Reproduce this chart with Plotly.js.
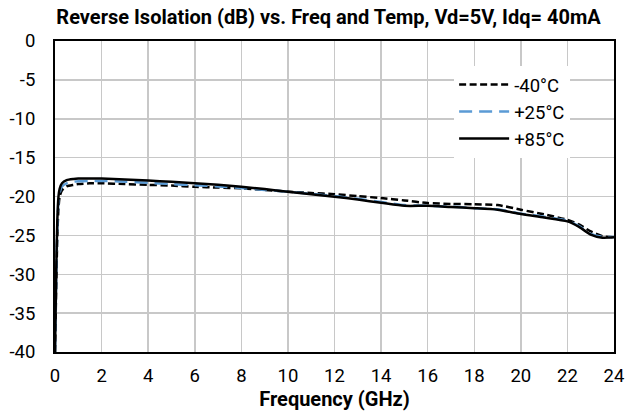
<!DOCTYPE html>
<html>
<head>
<meta charset="utf-8">
<script src="https://cdn.plot.ly/plotly-3.0.1.min.js"></script>
<style>html,body{margin:0;padding:0;background:#fff}#chart{width:641px;height:411px}</style>
</head>
<body>
<div id="chart"></div>
<script>
const freq = [0, 0.05, 0.1, 0.15, 0.2, 0.3, 0.5, 0.8, 1, 1.5, 2, 3, 4, 5, 6, 7, 8, 9, 10, 11, 12, 13, 14, 15, 16, 17, 18, 19, 20, 21, 22, 22.5, 23, 23.5, 24];
const isoM40 = [-40, -32, -25, -21.5, -20, -19.2, -18.7, -18.5, -18.4, -18.3, -18.3, -18.4, -18.5, -18.6, -18.75, -18.85, -18.95, -19.15, -19.38, -19.55, -19.7, -19.95, -20.2, -20.5, -20.85, -20.95, -21.0, -21.1, -21.7, -22.3, -23.0, -23.6, -24.5, -25.1, -25.25];
const isoP25 = [-40, -31, -24, -20.5, -19.5, -18.7, -18.3, -18.1, -18.05, -18.0, -18.0, -18.1, -18.25, -18.4, -18.55, -18.7, -18.9, -19.15, -19.4, -19.65, -19.95, -20.3, -20.7, -21.1, -21.2, -21.3, -21.5, -21.65, -22.2, -22.6, -23.1, -23.8, -24.8, -25.2, -25.2];
const isoP85 = [-40, -30, -23, -20, -19, -18.3, -17.9, -17.75, -17.7, -17.68, -17.7, -17.8, -17.95, -18.1, -18.3, -18.5, -18.75, -19.05, -19.38, -19.7, -20.02, -20.4, -20.8, -21.2, -21.2, -21.35, -21.5, -21.7, -22.25, -22.7, -23.2, -23.9, -24.9, -25.3, -25.25];
const seriesNames = ["-40°C", "+25°C", "+85°C"];
const xTicks = [0, 2, 4, 6, 8, 10, 12, 14, 16, 18, 20, 22, 24];
const yTicks = [0, -5, -10, -15, -20, -25, -30, -35, -40];

const font = "Roboto, 'Liberation Sans', sans-serif";
const traces = [
  {x: freq, y: isoM40, name: seriesNames[0], legendgroup: "a", mode: "lines", line: {color: "#000000", width: 2.5, dash: "7px,3.5px", shape: "spline", smoothing: 0.6}},
  {x: freq, y: isoP25, name: seriesNames[1], legendgroup: "b", mode: "lines", line: {color: "#5B9BD5", width: 2.5, dash: "13px,7px", shape: "spline", smoothing: 0.6}},
  {x: freq, y: isoP85, name: seriesNames[2], legendgroup: "c", mode: "lines", line: {color: "#000000", width: 2.5, shape: "spline", smoothing: 0.6}}
];
const layout = {
  width: 641, height: 411,
  margin: {l: 55, r: 27, t: 41, b: 59},
  paper_bgcolor: "#ffffff", plot_bgcolor: "#ffffff",
  font: {family: font, size: 18.5, color: "#000000"},
  title: {text: "<b>Reverse Isolation (dB) vs. Freq and Temp, Vd=5V, Idq= 40mA</b>", font: {family: font, size: 20, color: "#000"}, xref: "container", x: 0.5125, xanchor: "center", yref: "container", y: 0.959, yanchor: "middle"},
  xaxis: {range: [0, 24], tickvals: xTicks, ticktext: xTicks.map(String), showgrid: true, gridcolor: "#c8c8c8", gridwidth: 1.5,
          showline: true, linecolor: "#000", linewidth: 2, mirror: true, ticks: "", zeroline: false, ticklabelstandoff: 6,
          tickfont: {size: 18.5}, title: {text: "<b>Frequency (GHz)</b>", font: {size: 20}, standoff: 7}},
  yaxis: {range: [-40, 0], tickvals: yTicks, ticktext: yTicks.map(String), showgrid: true, gridcolor: "#c8c8c8", gridwidth: 1.5,
          showline: true, linecolor: "#000", linewidth: 2, mirror: true, ticks: "", zeroline: false, ticklabelstandoff: 14, tickfont: {size: 18.5}},
  showlegend: true,
  legend: {x: 0.714, y: 0.92, xanchor: "left", yanchor: "top", bgcolor: "#ffffff", font: {size: 18.5}, tracegroupgap: 0, traceorder: "grouped", itemwidth: 50},
};
Plotly.newPlot("chart", traces, layout, {displayModeBar: false, staticPlot: true});
</script>
</body>
</html>
